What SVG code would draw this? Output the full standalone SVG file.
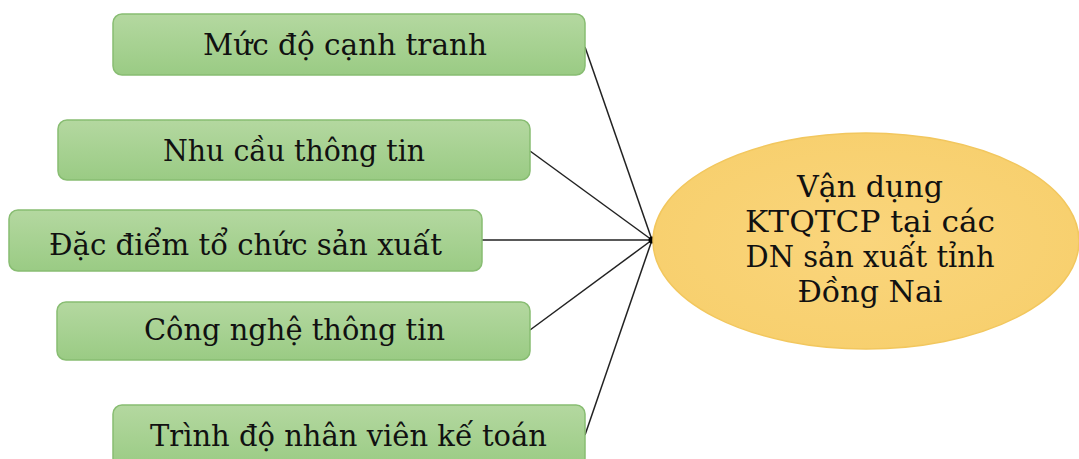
<svg xmlns="http://www.w3.org/2000/svg" width="1079" height="459" viewBox="0 0 1079 459">
<defs>
<linearGradient id="g" x1="0" y1="0" x2="0" y2="1">
<stop offset="0" stop-color="#b4d8a0"/>
<stop offset="1" stop-color="#9acb84"/>
</linearGradient>
<radialGradient id="o" cx="0.5" cy="0.5" r="0.6">
<stop offset="0" stop-color="#fad57c"/>
<stop offset="1" stop-color="#f7cf6c"/>
</radialGradient>
</defs>
<style>
.box{fill:url(#g);stroke:#88bd72;stroke-width:1.5}
.t{font-family:'DejaVu Serif','Liberation Serif',serif;font-size:30px;fill:#111;text-anchor:middle}
.c{stroke:#222;stroke-width:1.5;fill:none}
</style>
<rect width="1079" height="459" fill="#ffffff"/>
<g id="connectors">
<line class="c" x1="585" y1="47" x2="652" y2="240"/>
<line class="c" x1="530" y1="151" x2="652" y2="240"/>
<line class="c" x1="482" y1="240" x2="652" y2="240"/>
<line class="c" x1="530" y1="330" x2="652" y2="240"/>
<line class="c" x1="585" y1="435" x2="652" y2="240"/>
<circle cx="652" cy="240" r="3.5" fill="#000"/>
</g>
<g id="center">
<ellipse cx="866" cy="241" rx="213" ry="108" fill="url(#o)" stroke="#f2c75e" stroke-width="1.5"/>
<text class="t" x="870" y="197" textLength="146" lengthAdjust="spacingAndGlyphs">Vận dụng</text>
<text class="t" x="870" y="232" textLength="250" lengthAdjust="spacingAndGlyphs">KTQTCP tại các</text>
<text class="t" x="870" y="267" textLength="249" lengthAdjust="spacingAndGlyphs">DN sản xuất tỉnh</text>
<text class="t" x="870" y="302" textLength="145" lengthAdjust="spacingAndGlyphs">Đồng Nai</text>
</g>
<g id="n1">
<rect class="box" x="113" y="14" width="472" height="61" rx="9"/>
<text class="t" x="345" y="55" textLength="284" lengthAdjust="spacingAndGlyphs">Mức độ cạnh tranh</text>
</g>
<g id="n2">
<rect class="box" x="58" y="120" width="472" height="60" rx="9"/>
<text class="t" x="294" y="161" textLength="262" lengthAdjust="spacingAndGlyphs">Nhu cầu thông tin</text>
</g>
<g id="n3">
<rect class="box" x="9" y="210" width="473" height="61" rx="9"/>
<text class="t" x="245.5" y="255" textLength="393" lengthAdjust="spacingAndGlyphs">Đặc điểm tổ chức sản xuất</text>
</g>
<g id="n4">
<rect class="box" x="57" y="302" width="473" height="58" rx="9"/>
<text class="t" x="294.5" y="340" textLength="301" lengthAdjust="spacingAndGlyphs">Công nghệ thông tin</text>
</g>
<g id="n5">
<rect class="box" x="113" y="405" width="472" height="62" rx="9"/>
<text class="t" x="348.5" y="446" textLength="397" lengthAdjust="spacingAndGlyphs">Trình độ nhân viên kế toán</text>
</g>
</svg>
